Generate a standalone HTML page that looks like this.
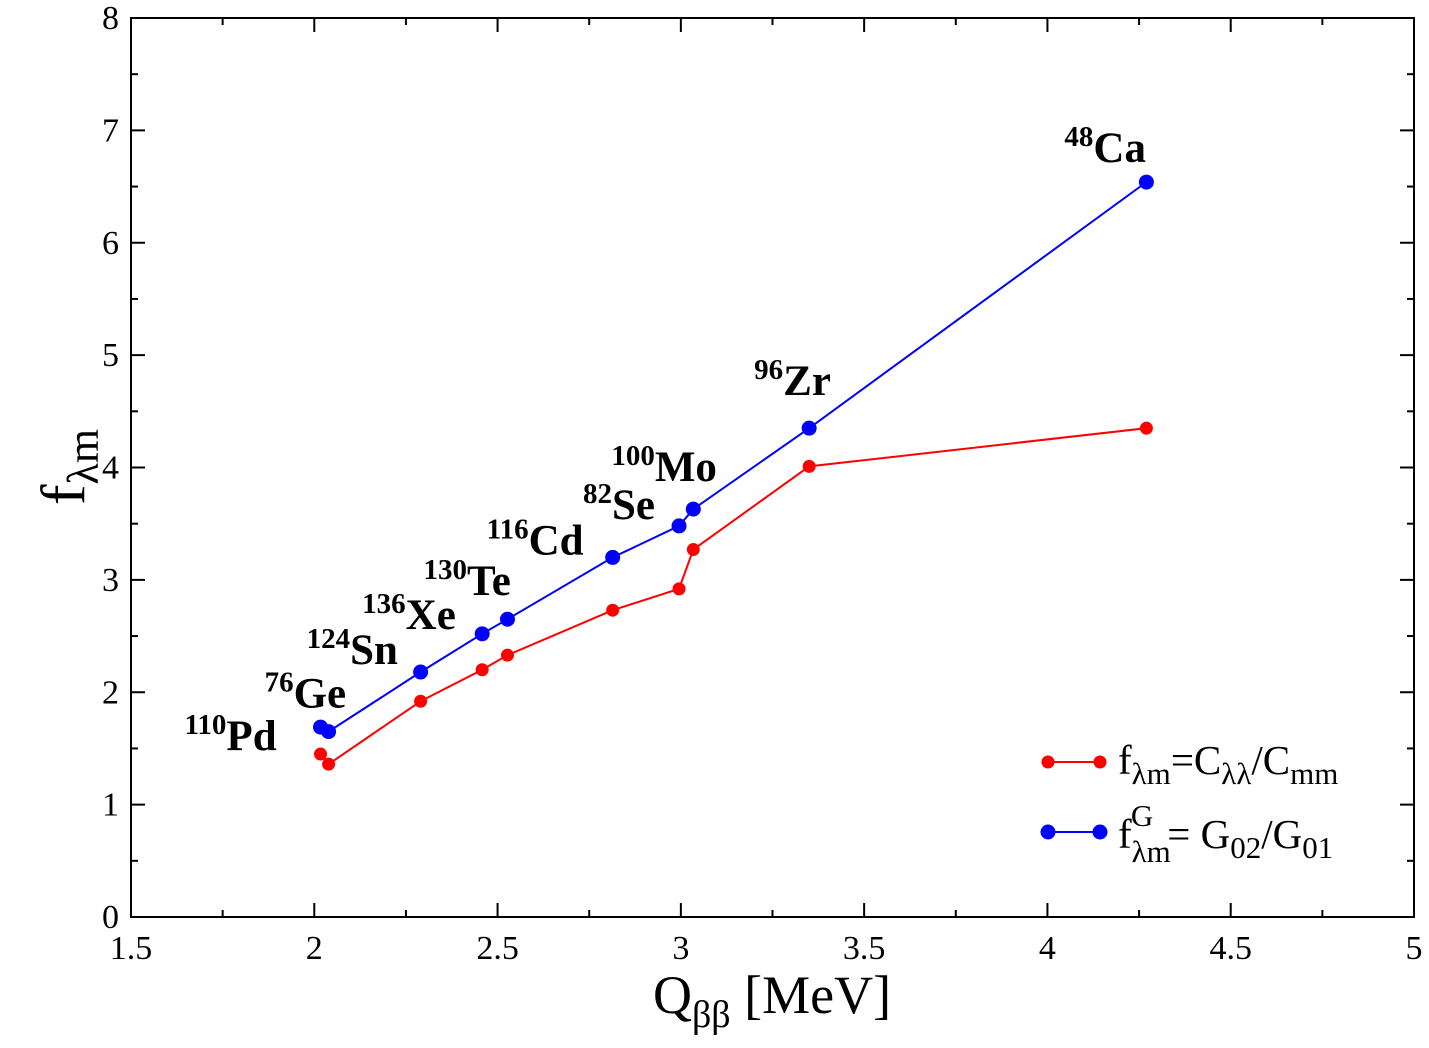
<!DOCTYPE html>
<html><head><meta charset="utf-8"><style>
html,body{margin:0;padding:0;background:#fff}
svg{display:block;font-family:"Liberation Serif",serif}
</style></head><body>
<svg id="chart" width="1429" height="1048" viewBox="0 0 1429 1048" xmlns="http://www.w3.org/2000/svg">
<g id="axes"></g>
<g id="series"></g>
<g id="labels"></g>
<text x="772" y="1013" font-size="54" text-anchor="middle">Q<tspan font-size="38" dy="14">ββ</tspan><tspan dy="-14"> [MeV]</tspan></text>
<text transform="translate(84,467) rotate(-90)" font-size="62" text-anchor="middle">f<tspan font-size="44" dy="14">λm</tspan></text>
<g>
 <g>
  <line x1="1048" y1="762" x2="1100" y2="762" stroke="#f00" stroke-width="2"/>
  <circle cx="1048" cy="762" r="6.5" fill="#f00"/><circle cx="1100" cy="762" r="6.5" fill="#f00"/>
  <text x="1118" y="774" font-size="41">f<tspan font-size="31" dy="10">λm</tspan><tspan dy="-10">=C</tspan><tspan font-size="31" dy="10">λλ</tspan><tspan dy="-10">/C</tspan><tspan font-size="31" dy="10">mm</tspan></text>
 </g>
 <g>
  <line x1="1048" y1="832" x2="1100" y2="832" stroke="#00f" stroke-width="2"/>
  <circle cx="1048" cy="832" r="7.5" fill="#00f"/><circle cx="1100" cy="832" r="7.5" fill="#00f"/>
  <text x="1118" y="848" font-size="41">f<tspan font-size="31" dy="14">λm</tspan><tspan font-size="31" dx="-40" dy="-36">G</tspan><tspan dx="14" dy="22">= G</tspan><tspan font-size="31" dy="10">02</tspan><tspan dy="-10">/G</tspan><tspan font-size="31" dy="10">01</tspan></text>
 </g>
</g>
</svg>
<script>
const nuclides=["Pd","Ge","Sn","Xe","Te","Cd","Se","Mo","Zr","Ca"];
const massNumbers=["110","76","124","136","130","116","82","100","96","48"];
const qValues=[2.017,2.039,2.29,2.458,2.527,2.814,2.995,3.034,3.35,4.27];
const redValues=[1.45,1.36,1.92,2.20,2.33,2.73,2.92,3.27,4.01,4.35];
const blueValues=[1.69,1.65,2.18,2.52,2.65,3.20,3.48,3.63,4.35,6.54];
const xTicks=["1.5","2","2.5","3","3.5","4","4.5","5"];
const yTicks=["0","1","2","3","4","5","6","7","8"];
const X0=131,X1=1414,Y0=917,Y1=18;
const xs=v=>X0+(v-1.5)/3.5*(X1-X0);
const ys=v=>Y0-(v/8)*(Y0-Y1);
const NS="http://www.w3.org/2000/svg";
function mk(t,a,p){const e=document.createElementNS(NS,t);for(const k in a)e.setAttribute(k,a[k]);p.appendChild(e);return e;}
const ax=document.getElementById('axes');
const frame=mk('rect',{x:X0,y:Y1,width:X1-X0,height:Y0-Y1,fill:'none',stroke:'#000','stroke-width':2},ax);


for(let i=0;i<=14;i++){const v=1.5+i*0.25,x=xs(v),L=i%2==0?14:7;
 mk('line',{x1:x,y1:Y0,x2:x,y2:Y0-L,stroke:'#000','stroke-width':2},ax);
 mk('line',{x1:x,y1:Y1,x2:x,y2:Y1+L,stroke:'#000','stroke-width':2},ax);}
xTicks.forEach(s=>{const t=mk('text',{x:xs(parseFloat(s)),y:Y0+42,'font-size':34,'text-anchor':'middle'},ax);t.textContent=s;
 
 });
for(let i=0;i<=16;i++){const v=i*0.5,y=ys(v),L=i%2==0?14:7;
 mk('line',{x1:X0,y1:y,x2:X0+L,y2:y,stroke:'#000','stroke-width':2},ax);
 mk('line',{x1:X1,y1:y,x2:X1-L,y2:y,stroke:'#000','stroke-width':2},ax);}
yTicks.forEach(s=>{const t=mk('text',{x:X0-12,y:ys(parseFloat(s))+11,'font-size':34,'text-anchor':'end'},ax);t.textContent=s;
 
 });
const sg=document.getElementById('series');
function series(vals,col,r,name){
 const pl=mk('polyline',{points:qValues.map((q,i)=>xs(q)+','+ys(vals[i])).join(' '),fill:'none',stroke:col,'stroke-width':2},sg);
 
 
 qValues.forEach((q,i)=>{const c=mk('circle',{cx:xs(q),cy:ys(vals[i]),r:r,fill:col},sg);
  
  });
}
series(redValues,'#f00',6.5,'red-series');
series(blueValues,'#00f',7.5,'blue-series');
const lg=document.getElementById('labels');
const offs=[[-136,23],[-64,-24],[-114,-8],[-120,-5],[-84,-24],[-126,-3],[-96,-7],[-82,-28],[-55,-33],[-82,-20]];
nuclides.forEach((n,i)=>{const x=xs(qValues[i])+offs[i][0],y=ys(blueValues[i])+offs[i][1];
 const t=mk('text',{x:x,y:y,'font-size':43,'font-weight':'bold'},lg);
 t.innerHTML='<tspan font-size="29" dy="-16">'+massNumbers[i]+'</tspan><tspan dy="16">'+n+'</tspan>';
 
 });
</script>
</body></html>
